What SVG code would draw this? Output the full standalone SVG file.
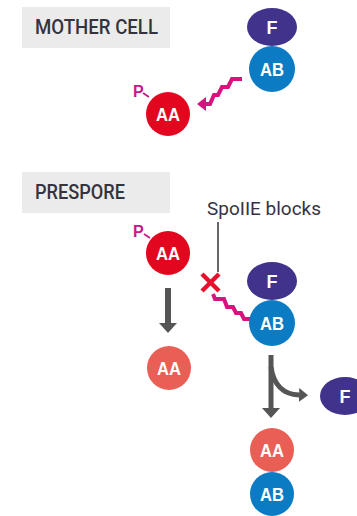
<svg xmlns="http://www.w3.org/2000/svg" width="357" height="516" viewBox="0 0 357 516">
<defs>
<style>
.lbl{fill:#ebebeb}
.lbltxt{font-family:Roboto,"Liberation Sans",Arial,sans-serif;font-weight:500;font-size:20px;fill:#33343f}
.note{font-family:Roboto,"Liberation Sans",Arial,sans-serif;font-weight:400;font-size:18px;fill:#33343f}
.nt{font-family:"Liberation Sans",Arial,sans-serif;font-weight:bold;font-size:18px;fill:#fff;text-anchor:middle}
.p{font-family:"Liberation Sans",Arial,sans-serif;font-weight:bold;font-size:16px;fill:#c9188c}
.F{fill:#41338b}
.AB{fill:#0b7bc4}
.AA{fill:#e3061f}
.AAs{fill:#ea5f55}
.tick{stroke:#c9188c;stroke-width:1.8;fill:none}
.zz{stroke:#d6137f;stroke-width:4;fill:none;stroke-linejoin:miter}
.gray{stroke:#555;stroke-width:6;fill:none}
.gray2{stroke:#555;stroke-width:5;fill:none}
</style>
<marker id="mg" markerUnits="userSpaceOnUse" markerWidth="10" markerHeight="18" refX="0" refY="9" orient="auto" viewBox="0 0 10 18"><path d="M0,0 L10,9 L0,18 z" fill="#555"/></marker>
<marker id="mg2" markerUnits="userSpaceOnUse" markerWidth="9" markerHeight="14" refX="0" refY="7" orient="auto" viewBox="0 0 9 14"><path d="M0,0 L9,7 L0,14 z" fill="#555"/></marker>
<marker id="mm" markerUnits="userSpaceOnUse" markerWidth="9" markerHeight="14" refX="0" refY="7" orient="auto" viewBox="0 0 9 14"><path d="M0,0 L9,7 L0,14 z" fill="#d6137f"/></marker>
</defs>

<g id="label-mother">
<rect class="lbl" x="22" y="7" width="148" height="41"/>
<text class="lbltxt" x="35" y="34" textLength="123" lengthAdjust="spacingAndGlyphs">MOTHER CELL</text>
</g>
<g id="label-prespore">
<rect class="lbl" x="22" y="172" width="148" height="41"/>
<text class="lbltxt" x="35" y="199" textLength="90" lengthAdjust="spacingAndGlyphs">PRESPORE</text>
</g>

<g id="connectors">
<polyline class="zz" points="242,79 232,79 228,87 222,87 218,95 214,95 210,104 206,104" marker-end="url(#mm)"/>
<line x1="218" y1="222" x2="218" y2="272" stroke="#333" stroke-width="1.5"/>
<g id="block-x" stroke="#e8112d" stroke-width="4.5" stroke-linecap="butt">
<line x1="202" y1="274" x2="219" y2="291"/>
<line x1="219" y1="274" x2="202" y2="291"/>
</g>
<polyline class="zz" points="213,294 215,299 224,299 227,307 233,307 236,313 241,313 244,319 250,319"/>
<line class="gray" x1="168" y1="288" x2="168" y2="323" marker-end="url(#mg)"/>
<line class="gray2" x1="271" y1="355" x2="271" y2="408" marker-end="url(#mg)"/>
<path class="gray2" d="M271,367 Q275,394 299,395" marker-end="url(#mg2)"/>
</g>

<g id="mc-F"><ellipse class="F" cx="272" cy="27" rx="25" ry="19"/><text class="nt" x="272" y="34">F</text></g>
<g id="mc-AB"><circle class="AB" cx="272" cy="69" r="23"/><text class="nt" x="272" y="76" textLength="24" lengthAdjust="spacingAndGlyphs">AB</text></g>
<g id="mc-AA"><circle class="AA" cx="168" cy="114" r="22"/><text class="nt" x="168" y="121" textLength="24" lengthAdjust="spacingAndGlyphs">AA</text>
<text class="p" x="133" y="97">P</text><line class="tick" x1="143" y1="93" x2="149" y2="97"/></g>

<g id="spoiie-label"><text class="note" x="207" y="215" textLength="114" lengthAdjust="spacingAndGlyphs">SpoIIE blocks</text></g>

<g id="ps-AA"><circle class="AA" cx="168" cy="253" r="22"/><text class="nt" x="168" y="260" textLength="24" lengthAdjust="spacingAndGlyphs">AA</text>
<text class="p" x="133" y="237">P</text><line class="tick" x1="144" y1="234" x2="150" y2="238"/></g>
<g id="ps-F"><ellipse class="F" cx="272" cy="281" rx="25" ry="19"/><text class="nt" x="272" y="288">F</text></g>
<g id="ps-AB"><circle class="AB" cx="272" cy="323" r="23"/><text class="nt" x="272" y="330" textLength="24" lengthAdjust="spacingAndGlyphs">AB</text></g>
<g id="ps-AA-free"><circle class="AAs" cx="169" cy="368" r="22"/><text class="nt" x="169" y="375" textLength="24" lengthAdjust="spacingAndGlyphs">AA</text></g>
<g id="ps-F-free"><ellipse class="F" cx="345" cy="396" rx="25" ry="19"/><text class="nt" x="345" y="403">F</text></g>
<g id="ps-AA-bound"><circle class="AAs" cx="272" cy="450" r="22"/><text class="nt" x="272" y="457" textLength="24" lengthAdjust="spacingAndGlyphs">AA</text></g>
<g id="ps-AB-bound"><circle class="AB" cx="272" cy="494" r="22"/><text class="nt" x="272" y="501" textLength="24" lengthAdjust="spacingAndGlyphs">AB</text></g>
</svg>
